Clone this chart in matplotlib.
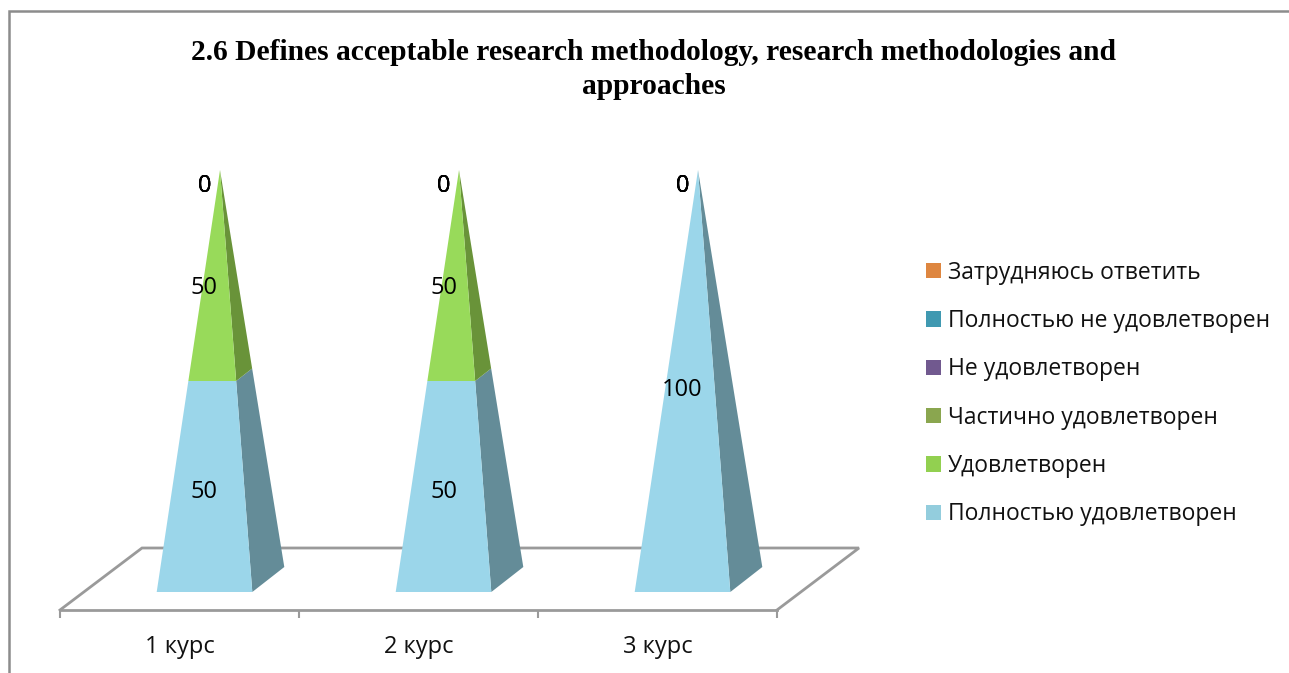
import matplotlib
matplotlib.use('Agg')
import matplotlib.pyplot as plt
from matplotlib.lines import Line2D
from matplotlib.patches import Patch

W, H = 1289, 673

categories = ['1 курс', '2 курс', '3 курс']
titulo = '2.6 Defines acceptable research methodology, research methodologies and\napproaches'

# series, from the bottom of the stack upwards
series_names = ['Полностью удовлетворен', 'Удовлетворен', 'Частично удовлетворен',
                'Не удовлетворен', 'Полностью не удовлетворен', 'Затрудняюсь ответить']
s_full = [50, 50, 100]
s_sat = [50, 50, 0]
s_part = [0, 0, 0]
s_not = [0, 0, 0]
s_fullnot = [0, 0, 0]
s_hard = [0, 0, 0]
series_values = [s_full, s_sat, s_part, s_not, s_fullnot, s_hard]

legend_colors = ['#93CDDD', '#92D050', '#8AA64F', '#71598F', '#4099B1', '#DE8640']
front_colors = ['#9BD6EA', '#98DA5A', '#8AA64F', '#71598F', '#4099B1', '#DE8640']
side_colors = ['#648C98', '#699339', '#5A6E33', '#4A3A5E', '#2A6474', '#91572A']

fig = plt.figure(figsize=(W / 100, H / 100), dpi=100, facecolor='white')

# axes box: x 60..777 px, y 170..610 px, value 0 sits at 592 px
ax = fig.add_axes([60 / W, 1 - 610 / H, (777 - 60) / W, (610 - 170) / H])
px_x = (777 - 60) / 3      # pixels per category
px_y = (592 - 170) / 100   # pixels per value unit
ax.set_xlim(0, 3)
ax.set_ylim(-18 / px_y, 100)
ax.patch.set_alpha(0)

for s in ['top', 'left', 'right']:
    ax.spines[s].set_visible(False)
ax.spines['bottom'].set_color('#9A9A9A')
ax.spines['bottom'].set_linewidth(2)
ax.set_yticks([])
ax.set_xticks([0, 1, 2, 3])
ax.set_xticklabels([])
ax.tick_params(axis='x', which='major', length=6, width=1.5, color='#9A9A9A')
ax.set_xticks([0.5, 1.5, 2.5], categories, minor=True, fontsize=17, fontfamily='Open Sans', color='#111111')
ax.tick_params(axis='x', which='minor', length=0, pad=18)

# floor of the 3d chart
back_dx = 82 / px_x
back_y = (592 - 548) / px_y
front_y = -18 / px_y
ax.plot([0, back_dx, 3 + back_dx, 3], [front_y, back_y, back_y, front_y],
        color='#9A9A9A', lw=2, clip_on=False, zorder=1, solid_joinstyle='miter')

# pyramid shape in axis units, relative to the category centre
half_w = 47.8 / px_x
cx_off = 25 / px_x
depth_dx = 32 / px_x
depth_y = 25 / px_y
apex_off = 40.5 / px_x
label_scale = 0.967
label_shift = -0.5


def along(p, q, t):
    return (p[0] + (q[0] - p[0]) * t, p[1] + (q[1] - p[1]) * t)


for i in range(len(categories)):
    c = i + 0.5 + cx_off
    fl = (c - half_w, 0)
    fr = (c + half_w, 0)
    br = (c + half_w + depth_dx, depth_y)
    apex = (i + 0.5 + apex_off, 100)
    acum = 0
    for j, vals in enumerate(series_values):
        v = vals[i]
        t0 = acum / 100
        t1 = (acum + v) / 100
        if v > 0:
            a, b = along(fl, apex, t0), along(fr, apex, t0)
            d, e = along(fl, apex, t1), along(fr, apex, t1)
            g, h = along(br, apex, t0), along(br, apex, t1)
            ax.fill([b[0], g[0], h[0], e[0]], [b[1], g[1], h[1], e[1]],
                    color=side_colors[j], lw=0, clip_on=False, zorder=3)
            ax.fill([a[0], b[0], e[0], d[0]], [a[1], b[1], e[1], d[1]],
                    color=front_colors[j], lw=0, clip_on=False, zorder=4)
        ax.text(c, (acum + v / 2) * label_scale + label_shift, str(v), ha='center', va='center',
                fontsize=17, fontfamily='Open Sans', color='black', clip_on=False, zorder=5)
        acum += v

# title
fig.text(653.5 / W, 1 - 69.5 / H, titulo, ha='center', va='center', fontsize=21.25, fontweight='bold',
         fontfamily='Liberation Serif', color='black', linespacing=1.35)

# legend, top entry is the last series
handles = [Patch(facecolor=col, edgecolor='none') for col in legend_colors[::-1]]
fig.legend(handles, series_names[::-1], loc='center left', bbox_to_anchor=(926 / W, 1 - 393.5 / H),
           frameon=False, prop={'family': 'Open Sans', 'size': 16.5}, labelspacing=1.06,
           handlelength=0.65, handleheight=0.65, handletextpad=0.3, labelcolor='#111111',
           borderpad=0, borderaxespad=0)

# chart frame: only the left and top edges show in the crop
fig.add_artist(Line2D([9 / W, 9 / W, 1.0], [0, 1 - 11 / H, 1 - 11 / H], transform=fig.transFigure,
                      color='#8C8C8C', lw=1.8, solid_joinstyle='miter'))

fig.savefig('out.png', dpi=100)
